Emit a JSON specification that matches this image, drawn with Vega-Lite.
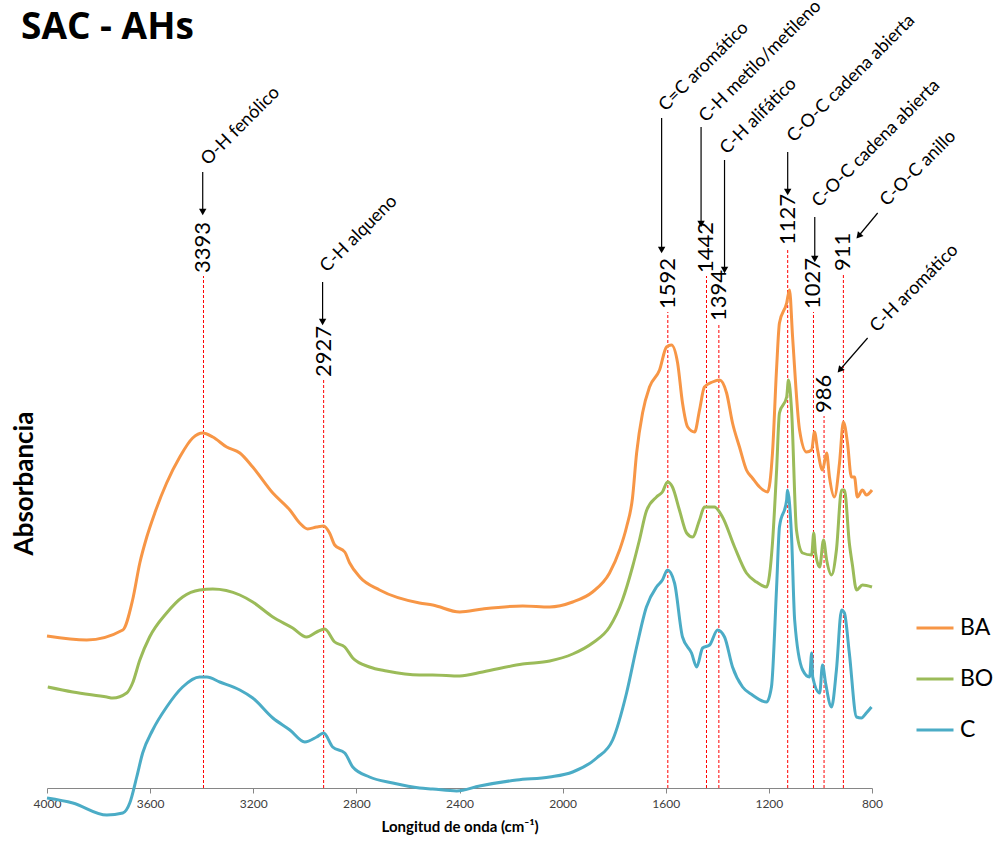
{
  "$schema": "https://vega.github.io/schema/vega-lite/v6.json",
  "width": 825,
  "height": 610,
  "autosize": {"type": "none"},
  "padding": {"left": 47, "top": 178, "right": 128, "bottom": 57},
  "background": "white",
  "title": {"text": "SAC - AHs", "anchor": "start", "frame": "group", "font": "Open Sans", "fontSize": 37, "fontWeight": "bold", "color": "black", "dx": -26, "offset": -79, "baseline": "alphabetic"},
  "config": {
    "view": {"stroke": null},
    "font": "Lato",
    "axisX": {"grid": false, "labelFlush": false, "titleFont": "Lato", "titleFontSize": 15, "titleFontWeight": "bold", "titleColor": "black", "titlePadding": 10, "labelFont": "Lato", "labelFontSize": 12, "labelColor": "#404040", "labelPadding": 5, "domainColor": "#868686", "tickColor": "#868686", "tickSize": 5},
    "axisY": {"labels": false, "ticks": false, "domain": false, "grid": false, "titleFont": "Lato", "titleFontSize": 26, "titleFontWeight": "bold", "titleColor": "black", "titlePadding": 10}
  },
  "datasets": {
    "spectra": [
      {"s":"BA","wn":4000,"a":152},{"s":"BA","wn":3846,"a":148},{"s":"BA","wn":3706,"a":158},{"s":"BA","wn":3668,"a":188},{"s":"BA","wn":3640,"a":225},{"s":"BA","wn":3613,"a":251},{"s":"BA","wn":3582,"a":275},{"s":"BA","wn":3536,"a":305},{"s":"BA","wn":3485,"a":331},{"s":"BA","wn":3435,"a":350},{"s":"BA","wn":3396,"a":355},{"s":"BA","wn":3357,"a":351},{"s":"BA","wn":3303,"a":341},{"s":"BA","wn":3252,"a":335},{"s":"BA","wn":3202,"a":321},{"s":"BA","wn":3124,"a":295},{"s":"BA","wn":3058,"a":278},{"s":"BA","wn":3020,"a":265},{"s":"BA","wn":2989,"a":259},{"s":"BA","wn":2954,"a":261},{"s":"BA","wn":2927,"a":262},{"s":"BA","wn":2904,"a":255},{"s":"BA","wn":2884,"a":243},{"s":"BA","wn":2845,"a":236},{"s":"BA","wn":2826,"a":225},{"s":"BA","wn":2787,"a":211},{"s":"BA","wn":2710,"a":198},{"s":"BA","wn":2555,"a":185},{"s":"BA","wn":2504,"a":183},{"s":"BA","wn":2399,"a":176},{"s":"BA","wn":2310,"a":179},{"s":"BA","wn":2155,"a":182},{"s":"BA","wn":2050,"a":181},{"s":"BA","wn":1961,"a":186},{"s":"BA","wn":1884,"a":196},{"s":"BA","wn":1818,"a":215},{"s":"BA","wn":1779,"a":238},{"s":"BA","wn":1752,"a":261},{"s":"BA","wn":1729,"a":290},{"s":"BA","wn":1713,"a":335},{"s":"BA","wn":1690,"a":375},{"s":"BA","wn":1663,"a":401},{"s":"BA","wn":1624,"a":418},{"s":"BA","wn":1597,"a":441},{"s":"BA","wn":1578,"a":443},{"s":"BA","wn":1554,"a":425},{"s":"BA","wn":1535,"a":385},{"s":"BA","wn":1515,"a":361},{"s":"BA","wn":1488,"a":356},{"s":"BA","wn":1469,"a":378},{"s":"BA","wn":1450,"a":401},{"s":"BA","wn":1419,"a":406},{"s":"BA","wn":1391,"a":408},{"s":"BA","wn":1364,"a":395},{"s":"BA","wn":1341,"a":365},{"s":"BA","wn":1314,"a":341},{"s":"BA","wn":1287,"a":318},{"s":"BA","wn":1264,"a":310},{"s":"BA","wn":1236,"a":301},{"s":"BA","wn":1205,"a":296},{"s":"BA","wn":1186,"a":335},{"s":"BA","wn":1170,"a":420},{"s":"BA","wn":1159,"a":465},{"s":"BA","wn":1131,"a":485},{"s":"BA","wn":1120,"a":498},{"s":"BA","wn":1108,"a":451},{"s":"BA","wn":1081,"a":358},{"s":"BA","wn":1054,"a":336},{"s":"BA","wn":1034,"a":338},{"s":"BA","wn":1023,"a":356},{"s":"BA","wn":1011,"a":338},{"s":"BA","wn":992,"a":318},{"s":"BA","wn":976,"a":335},{"s":"BA","wn":965,"a":311},{"s":"BA","wn":946,"a":291},{"s":"BA","wn":926,"a":325},{"s":"BA","wn":911,"a":366},{"s":"BA","wn":895,"a":345},{"s":"BA","wn":880,"a":311},{"s":"BA","wn":868,"a":311},{"s":"BA","wn":857,"a":291},{"s":"BA","wn":837,"a":298},{"s":"BA","wn":822,"a":293},{"s":"BA","wn":800,"a":298},
      {"s":"BO","wn":3997,"a":101},{"s":"BO","wn":3900,"a":96},{"s":"BO","wn":3768,"a":91},{"s":"BO","wn":3745,"a":90},{"s":"BO","wn":3691,"a":95},{"s":"BO","wn":3668,"a":105},{"s":"BO","wn":3640,"a":128},{"s":"BO","wn":3602,"a":151},{"s":"BO","wn":3536,"a":175},{"s":"BO","wn":3474,"a":191},{"s":"BO","wn":3408,"a":198},{"s":"BO","wn":3357,"a":199},{"s":"BO","wn":3252,"a":193},{"s":"BO","wn":3202,"a":186},{"s":"BO","wn":3124,"a":171},{"s":"BO","wn":3047,"a":160},{"s":"BO","wn":2993,"a":151},{"s":"BO","wn":2954,"a":156},{"s":"BO","wn":2923,"a":159},{"s":"BO","wn":2884,"a":146},{"s":"BO","wn":2845,"a":141},{"s":"BO","wn":2814,"a":130},{"s":"BO","wn":2749,"a":121},{"s":"BO","wn":2683,"a":117},{"s":"BO","wn":2555,"a":113},{"s":"BO","wn":2504,"a":113},{"s":"BO","wn":2399,"a":112},{"s":"BO","wn":2310,"a":116},{"s":"BO","wn":2155,"a":124},{"s":"BO","wn":2050,"a":127},{"s":"BO","wn":1961,"a":134},{"s":"BO","wn":1884,"a":145},{"s":"BO","wn":1818,"a":161},{"s":"BO","wn":1768,"a":188},{"s":"BO","wn":1729,"a":221},{"s":"BO","wn":1702,"a":248},{"s":"BO","wn":1675,"a":277},{"s":"BO","wn":1636,"a":291},{"s":"BO","wn":1613,"a":296},{"s":"BO","wn":1593,"a":306},{"s":"BO","wn":1574,"a":301},{"s":"BO","wn":1547,"a":278},{"s":"BO","wn":1519,"a":255},{"s":"BO","wn":1496,"a":251},{"s":"BO","wn":1469,"a":268},{"s":"BO","wn":1450,"a":281},{"s":"BO","wn":1411,"a":281},{"s":"BO","wn":1380,"a":271},{"s":"BO","wn":1333,"a":241},{"s":"BO","wn":1287,"a":215},{"s":"BO","wn":1248,"a":206},{"s":"BO","wn":1209,"a":201},{"s":"BO","wn":1186,"a":245},{"s":"BO","wn":1170,"a":318},{"s":"BO","wn":1159,"a":375},{"s":"BO","wn":1131,"a":391},{"s":"BO","wn":1124,"a":408},{"s":"BO","wn":1112,"a":378},{"s":"BO","wn":1093,"a":258},{"s":"BO","wn":1069,"a":235},{"s":"BO","wn":1034,"a":233},{"s":"BO","wn":1026,"a":255},{"s":"BO","wn":1019,"a":235},{"s":"BO","wn":1003,"a":221},{"s":"BO","wn":988,"a":248},{"s":"BO","wn":976,"a":228},{"s":"BO","wn":957,"a":213},{"s":"BO","wn":938,"a":238},{"s":"BO","wn":918,"a":298},{"s":"BO","wn":907,"a":298},{"s":"BO","wn":888,"a":245},{"s":"BO","wn":876,"a":223},{"s":"BO","wn":860,"a":198},{"s":"BO","wn":837,"a":203},{"s":"BO","wn":800,"a":201},
      {"s":"C","wn":4000,"a":-10},{"s":"C","wn":3900,"a":-15},{"s":"C","wn":3768,"a":-27},{"s":"C","wn":3706,"a":-25},{"s":"C","wn":3679,"a":-15},{"s":"C","wn":3652,"a":11},{"s":"C","wn":3629,"a":35},{"s":"C","wn":3590,"a":58},{"s":"C","wn":3536,"a":81},{"s":"C","wn":3474,"a":101},{"s":"C","wn":3408,"a":111},{"s":"C","wn":3380,"a":111},{"s":"C","wn":3330,"a":106},{"s":"C","wn":3252,"a":98},{"s":"C","wn":3202,"a":90},{"s":"C","wn":3124,"a":70},{"s":"C","wn":3058,"a":58},{"s":"C","wn":3000,"a":46},{"s":"C","wn":2954,"a":51},{"s":"C","wn":2927,"a":55},{"s":"C","wn":2892,"a":41},{"s":"C","wn":2845,"a":35},{"s":"C","wn":2814,"a":21},{"s":"C","wn":2749,"a":11},{"s":"C","wn":2659,"a":5},{"s":"C","wn":2555,"a":0},{"s":"C","wn":2504,"a":-1},{"s":"C","wn":2411,"a":-3},{"s":"C","wn":2322,"a":2},{"s":"C","wn":2178,"a":8},{"s":"C","wn":2050,"a":11},{"s":"C","wn":1961,"a":16},{"s":"C","wn":1868,"a":30},{"s":"C","wn":1806,"a":48},{"s":"C","wn":1752,"a":95},{"s":"C","wn":1713,"a":141},{"s":"C","wn":1675,"a":181},{"s":"C","wn":1636,"a":201},{"s":"C","wn":1613,"a":208},{"s":"C","wn":1593,"a":218},{"s":"C","wn":1566,"a":205},{"s":"C","wn":1535,"a":151},{"s":"C","wn":1500,"a":135},{"s":"C","wn":1480,"a":121},{"s":"C","wn":1457,"a":140},{"s":"C","wn":1430,"a":143},{"s":"C","wn":1399,"a":158},{"s":"C","wn":1372,"a":151},{"s":"C","wn":1341,"a":121},{"s":"C","wn":1302,"a":101},{"s":"C","wn":1264,"a":93},{"s":"C","wn":1209,"a":86},{"s":"C","wn":1190,"a":101},{"s":"C","wn":1170,"a":201},{"s":"C","wn":1159,"a":261},{"s":"C","wn":1131,"a":288},{"s":"C","wn":1128,"a":298},{"s":"C","wn":1112,"a":251},{"s":"C","wn":1100,"a":168},{"s":"C","wn":1069,"a":118},{"s":"C","wn":1042,"a":111},{"s":"C","wn":1034,"a":135},{"s":"C","wn":1030,"a":111},{"s":"C","wn":1003,"a":95},{"s":"C","wn":992,"a":123},{"s":"C","wn":980,"a":105},{"s":"C","wn":957,"a":81},{"s":"C","wn":938,"a":118},{"s":"C","wn":918,"a":178},{"s":"C","wn":907,"a":175},{"s":"C","wn":888,"a":135},{"s":"C","wn":860,"a":71},{"s":"C","wn":841,"a":70},{"s":"C","wn":822,"a":75},{"s":"C","wn":802,"a":81}
    ],
    "peaks": [
      {"wn":3393,"base":0,"top":512,"label":"3393"},
      {"wn":2927,"base":0,"top":408,"label":"2927"},
      {"wn":1592,"base":0,"top":476,"label":"1592"},
      {"wn":1442,"base":0,"top":512,"label":"1442"},
      {"wn":1394,"base":0,"top":464,"label":"1394"},
      {"wn":1127,"base":0,"top":540,"label":"1127"},
      {"wn":1027,"base":0,"top":476,"label":"1027"},
      {"wn":986,"base":0,"top":372,"label":"986"},
      {"wn":911,"base":0,"top":514,"label":"911"}
    ],
    "notes": [
      {"wn":3392,"v":622,"note":"O-H fenólico"},
      {"wn":2930,"v":515,"note":"C-H alqueno"},
      {"wn":1616,"v":676,"note":"C=C aromático"},
      {"wn":1460,"v":665,"note":"C-H metilo/metileno"},
      {"wn":1379,"v":633,"note":"C-H alifático"},
      {"wn":1119,"v":645,"note":"C-O-C cadena abierta"},
      {"wn":1022,"v":580,"note":"C-O-C cadena abierta"},
      {"wn":758,"v":581,"note":"C-O-C anillo"},
      {"wn":797,"v":455,"note":"C-H aromático"}
    ],
    "arrows": [
      {"wn":3396,"v":616,"wn2":3396,"v2":576,"dir":"v"},
      {"wn":2931,"v":506,"wn2":2931,"v2":466,"dir":"v"},
      {"wn":1616,"v":670,"wn2":1616,"v2":538,"dir":"v"},
      {"wn":1463,"v":661,"wn2":1463,"v2":564,"dir":"v"},
      {"wn":1372,"v":628,"wn2":1372,"v2":518,"dir":"v"},
      {"wn":1127,"v":636,"wn2":1127,"v2":596,"dir":"v"},
      {"wn":1022,"v":571,"wn2":1022,"v2":529,"dir":"v"},
      {"wn":778,"v":575,"wn2":852,"v2":552,"dir":"d"},
      {"wn":817,"v":450,"wn2":925,"v2":418,"dir":"d"}
    ]
  },
  "layer": [
    {
      "data": {"name": "peaks"},
      "mark": {"type": "rule", "color": "#FF0000", "strokeDash": [3, 2], "strokeWidth": 1},
      "encoding": {
        "x": {"field": "wn", "type": "quantitative", "scale": {"domain": [800, 4000], "reverse": true, "nice": false, "zero": false}, "axis": {"values": [4000, 3600, 3200, 2800, 2400, 2000, 1600, 1200, 800], "format": "d", "title": "Longitud de onda (cm⁻¹)"}},
        "y": {"field": "base", "type": "quantitative", "scale": {"domain": [0, 610], "nice": false, "zero": false}, "axis": {"title": "Absorbancia"}},
        "y2": {"field": "top"}
      }
    },
    {
      "data": {"name": "spectra"},
      "mark": {"type": "line", "strokeWidth": 3, "interpolate": "monotone"},
      "encoding": {
        "x": {"field": "wn", "type": "quantitative", "scale": {"domain": [800, 4000], "reverse": true, "nice": false, "zero": false}, "axis": {"values": [4000, 3600, 3200, 2800, 2400, 2000, 1600, 1200, 800], "format": "d", "title": "Longitud de onda (cm⁻¹)"}},
        "y": {"field": "a", "type": "quantitative", "scale": {"domain": [0, 610], "nice": false, "zero": false}, "axis": {"title": "Absorbancia"}},
        "color": {"field": "s", "type": "nominal", "scale": {"domain": ["BA", "BO", "C"], "range": ["#F79646", "#9BBB59", "#4BACC6"]},
          "legend": {"orient": "none", "legendX": 868, "legendY": 430, "title": null, "symbolType": "stroke", "symbolSize": 1369, "symbolStrokeWidth": 3, "labelFont": "Lato", "labelFontSize": 23, "labelColor": "black", "labelOffset": 5, "rowPadding": 19}}
      }
    },
    {
      "data": {"name": "peaks"},
      "mark": {"type": "text", "angle": 270, "align": "left", "baseline": "middle", "dx": 3, "font": "Lato", "fontSize": 22, "color": "black"},
      "encoding": {
        "x": {"field": "wn", "type": "quantitative", "scale": {"domain": [800, 4000], "reverse": true, "nice": false, "zero": false}, "axis": {"values": [4000, 3600, 3200, 2800, 2400, 2000, 1600, 1200, 800], "format": "d", "title": "Longitud de onda (cm⁻¹)"}},
        "y": {"field": "top", "type": "quantitative", "scale": {"domain": [0, 610], "nice": false, "zero": false}, "axis": {"title": "Absorbancia"}},
        "text": {"field": "label"}
      }
    },
    {
      "data": {"name": "notes"},
      "mark": {"type": "text", "angle": 315, "align": "left", "baseline": "alphabetic", "dx": 3, "dy": 3, "font": "Lato", "fontSize": 18, "color": "black"},
      "encoding": {
        "x": {"field": "wn", "type": "quantitative", "scale": {"domain": [800, 4000], "reverse": true, "nice": false, "zero": false}, "axis": {"values": [4000, 3600, 3200, 2800, 2400, 2000, 1600, 1200, 800], "format": "d", "title": "Longitud de onda (cm⁻¹)"}},
        "y": {"field": "v", "type": "quantitative", "scale": {"domain": [0, 610], "nice": false, "zero": false}, "axis": {"title": "Absorbancia"}},
        "text": {"field": "note"}
      }
    },
    {
      "data": {"name": "arrows"},
      "mark": {"type": "rule", "color": "black", "strokeWidth": 1.2},
      "encoding": {
        "x": {"field": "wn", "type": "quantitative", "scale": {"domain": [800, 4000], "reverse": true, "nice": false, "zero": false}, "axis": {"values": [4000, 3600, 3200, 2800, 2400, 2000, 1600, 1200, 800], "format": "d", "title": "Longitud de onda (cm⁻¹)"}},
        "y": {"field": "v", "type": "quantitative", "scale": {"domain": [0, 610], "nice": false, "zero": false}, "axis": {"title": "Absorbancia"}},
        "x2": {"field": "wn2"},
        "y2": {"field": "v2"}
      }
    },
    {
      "data": {"name": "arrows"},
      "transform": [{"filter": "datum.dir === 'v'"}],
      "mark": {"type": "point", "shape": "triangle-down", "filled": true, "color": "black", "size": 55, "opacity": 1},
      "encoding": {
        "x": {"field": "wn2", "type": "quantitative", "scale": {"domain": [800, 4000], "reverse": true, "nice": false, "zero": false}, "axis": {"values": [4000, 3600, 3200, 2800, 2400, 2000, 1600, 1200, 800], "format": "d", "title": "Longitud de onda (cm⁻¹)"}},
        "y": {"field": "v2", "type": "quantitative", "scale": {"domain": [0, 610], "nice": false, "zero": false}, "axis": {"title": "Absorbancia"}}
      }
    },
    {
      "data": {"name": "arrows"},
      "transform": [{"filter": "datum.dir === 'd'"}],
      "mark": {"type": "point", "shape": "triangle-down", "filled": true, "color": "black", "size": 55, "opacity": 1, "angle": 41},
      "encoding": {
        "x": {"field": "wn2", "type": "quantitative", "scale": {"domain": [800, 4000], "reverse": true, "nice": false, "zero": false}, "axis": {"values": [4000, 3600, 3200, 2800, 2400, 2000, 1600, 1200, 800], "format": "d", "title": "Longitud de onda (cm⁻¹)"}},
        "y": {"field": "v2", "type": "quantitative", "scale": {"domain": [0, 610], "nice": false, "zero": false}, "axis": {"title": "Absorbancia"}}
      }
    }
  ]
}
